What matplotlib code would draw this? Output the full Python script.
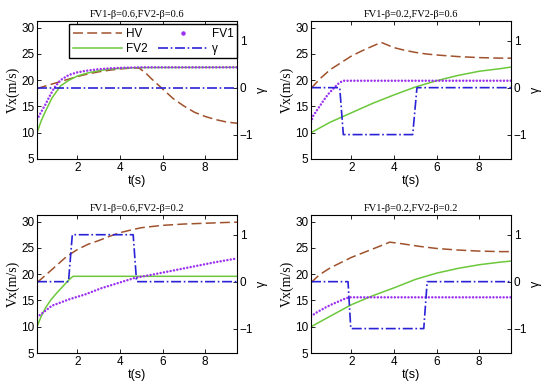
import matplotlib
matplotlib.use("Agg")
import matplotlib.pyplot as plt
from matplotlib.lines import Line2D

# panel titles (row by row)
titles = ["FV1-β=0.6,FV2-β=0.6", "FV1-β=0.2,FV2-β=0.6",
          "FV1-β=0.6,FV2-β=0.2", "FV1-β=0.2,FV2-β=0.2"]

# panel a: FV1 0.6, FV2 0.6
t_hv_a = [0.1, 0.5, 1, 1.5, 2, 2.5, 3, 3.5, 4, 4.5, 4.9, 5.2, 5.5, 6, 6.5, 7, 7.5, 8, 8.5, 9, 9.5]
hv_a = [18.4, 18.9, 19.5, 20.1, 20.7, 21.2, 21.6, 21.9, 22.15, 22.3, 22.3, 21.4, 20.2, 18.35, 16.5, 15.1, 13.9, 13.1, 12.5, 12.05, 11.8]
t_fv1_a = [0.1, 0.3, 0.5, 0.7, 0.9, 1.2, 1.6, 2.0, 2.5, 3.0, 3.5, 4.0, 4.5, 5, 9.5]
fv1_a = [12.5, 14.0, 15.4, 17.0, 18.5, 20.0, 21.0, 21.5, 21.85, 22.1, 22.25, 22.35, 22.4, 22.45, 22.45]
t_fv2_a = [0.1, 0.3, 0.5, 0.8, 1.2, 1.6, 2.0, 2.5, 3.0, 3.5, 4, 4.5, 5, 9.5]
fv2_a = [10.0, 12.3, 14.1, 16.6, 18.9, 20.0, 20.8, 21.4, 21.8, 22.1, 22.25, 22.35, 22.4, 22.45]
t_g_a = [0.1, 9.5]
g_a = [0, 0]

# panel b: FV1 0.2, FV2 0.6
t_hv_b = [0.1, 0.5, 1, 1.5, 2, 2.5, 3, 3.4, 4, 4.5, 5, 5.5, 6, 7, 8, 9, 9.5]
hv_b = [18.4, 20.2, 22.0, 23.3, 24.6, 25.6, 26.5, 27.2, 26.2, 25.7, 25.3, 25.0, 24.8, 24.5, 24.3, 24.2, 24.2]
t_fv1_b = [0.1, 0.2, 0.45, 0.7, 0.9, 1.15, 1.4, 1.6, 9.5]
fv1_b = [12.0, 13.2, 14.7, 16.2, 17.3, 18.4, 19.4, 19.9, 19.9]
t_fv2_b = [0.1, 1, 2, 3, 4, 5, 6, 7, 8, 9, 9.5]
fv2_b = [10.0, 12.0, 13.8, 15.6, 17.2, 18.7, 19.9, 20.9, 21.7, 22.2, 22.5]
t_g_b = [0.1, 1.45, 1.62, 4.88, 5.08, 9.5]
g_b = [0, 0, -1, -1, 0, 0]

# panel c: FV1 0.6, FV2 0.2
t_hv_c = [0.1, 0.5, 1, 1.5, 2, 2.5, 3, 3.5, 4, 4.5, 5, 6, 7, 8, 9, 9.5]
hv_c = [18.4, 19.8, 21.6, 23.4, 24.7, 25.7, 26.4, 27.2, 27.9, 28.4, 28.85, 29.3, 29.55, 29.7, 29.85, 29.9]
t_fv1_c = [0.1, 0.8, 1.6, 2.4, 3.1, 3.9, 4.7, 5.5, 6.5, 7.5, 8.5, 9.5]
fv1_c = [11.8, 14.0, 15.2, 16.2, 17.3, 18.3, 19.3, 19.9, 20.7, 21.5, 22.3, 23.0]
t_fv2_c = [0.1, 0.3, 0.5, 0.75, 1.0, 1.25, 1.5, 1.7, 1.8, 9.5]
fv2_c = [10.0, 12.0, 13.6, 15.1, 16.3, 17.4, 18.5, 19.3, 19.6, 19.6]
t_g_c = [0.1, 1.58, 1.76, 4.62, 4.78, 9.5]
g_c = [0, 0, 1, 1, 0, 0]

# panel d: FV1 0.2, FV2 0.2
t_hv_d = [0.1, 0.5, 1, 1.5, 2, 2.5, 3, 3.5, 3.8, 4.2, 4.7, 5.2, 6, 7, 8, 9, 9.5]
hv_d = [18.4, 19.9, 21.2, 22.2, 23.2, 24.0, 24.8, 25.6, 26.1, 25.9, 25.6, 25.3, 24.9, 24.6, 24.4, 24.3, 24.3]
t_fv1_d = [0.1, 0.4, 0.8, 1.1, 1.45, 1.7, 1.9, 9.5]
fv1_d = [12.0, 12.8, 13.7, 14.3, 14.9, 15.35, 15.6, 15.6]
t_fv2_d = [0.1, 1, 2, 3, 4, 5, 6, 7, 8, 9, 9.5]
fv2_d = [10.0, 12.0, 14.2, 15.9, 17.4, 19.0, 20.2, 21.1, 21.8, 22.3, 22.5]
t_g_d = [0.1, 1.84, 1.97, 5.40, 5.56, 9.5]
g_d = [0, 0, -1, -1, 0, 0]

x_ticks = [2, 4, 6, 8]
v_ticks = [5, 10, 15, 20, 25, 30]
g_ticks = [-1, 0, 1]

C_HV = "#a0522d"
C_FV1 = "#9b30f0"
C_FV2 = "#6cc83a"
C_G = "#2a22d6"
SANS = "Liberation Sans"
SERIF = "Liberation Serif"
HV_DASH = (6.5, 2.8)
G_DASH = (6, 1.6, 1, 1.6)

def _panel(fig, rect, title, hv, fv1, fv2, gam, legend=False):
    # one subplot with velocities on the left axis and gamma on the right
    ax = fig.add_axes(rect)
    ax.plot(hv[0], hv[1], color=C_HV, lw=1.1, dashes=HV_DASH)
    ax.plot(fv2[0], fv2[1], color=C_FV2, lw=1.1)
    ax.plot(fv1[0], fv1[1], color=C_FV1, lw=1.8, dashes=(0.01, 1.35),
            dash_capstyle="round")
    ax.set_xlim(0.1, 9.5)
    ax.set_ylim(5, 31.27)
    ax.set_xticks(x_ticks)
    ax.set_yticks(v_ticks)
    ax.tick_params(direction="in", length=3, width=0.6, top=True, labelsize=8.5, pad=2)
    for lab in ax.get_xticklabels() + ax.get_yticklabels():
        lab.set_family(SANS)
    ax.set_xlabel("t(s)", family=SANS, fontsize=9, labelpad=1)
    ax.set_ylabel("Vx(m/s)", family=SERIF, fontsize=10, labelpad=1)
    ax.set_title(title, family=SERIF, fontsize=7.5, pad=3)
    for s in ax.spines.values():
        s.set_linewidth(0.6)

    ax2 = ax.twinx()
    ax2.plot(gam[0], gam[1], color=C_G, lw=1.2, dashes=G_DASH)
    ax2.set_ylim(-1.52, 1.42)
    ax2.set_yticks(g_ticks)
    ax2.tick_params(direction="in", length=3, width=0.6, labelsize=8.5, pad=2)
    for lab in ax2.get_yticklabels():
        lab.set_family(SANS)
    ax2.set_ylabel("γ", family=SANS, fontsize=9, rotation=90, labelpad=2)

    if legend:
        handles = [Line2D([], [], color=C_HV, lw=1.1, dashes=HV_DASH),
                   Line2D([], [], color=C_FV2, lw=1.1),
                   Line2D([], [], color=C_FV1, ls="none", marker="o", ms=2.2),
                   Line2D([], [], color=C_G, lw=1.2, dashes=G_DASH)]
        ax2.legend(handles, ["HV", "FV2", "FV1", "γ"], ncol=2, loc="upper right",
                   bbox_to_anchor=(1.0, 0.976), borderaxespad=0, fancybox=False,
                   edgecolor="black", framealpha=1, handlelength=4.2,
                   handletextpad=0.35, columnspacing=0.85, labelspacing=0.25,
                   borderpad=0.3, prop={"family": SANS, "size": 8.5})
    return ax

if __name__ == "__main__":
    fig = plt.figure(figsize=(5.5, 3.89), dpi=100)
    w, h = 200 / 550, 138 / 389
    _panel(fig, [37 / 550, 1 - 159 / 389, w, h], titles[0],
           (t_hv_a, hv_a), (t_fv1_a, fv1_a), (t_fv2_a, fv2_a), (t_g_a, g_a), legend=True)
    _panel(fig, [311 / 550, 1 - 159 / 389, w, h], titles[1],
           (t_hv_b, hv_b), (t_fv1_b, fv1_b), (t_fv2_b, fv2_b), (t_g_b, g_b))
    _panel(fig, [37 / 550, 1 - 353 / 389, w, h], titles[2],
           (t_hv_c, hv_c), (t_fv1_c, fv1_c), (t_fv2_c, fv2_c), (t_g_c, g_c))
    _panel(fig, [311 / 550, 1 - 353 / 389, w, h], titles[3],
           (t_hv_d, hv_d), (t_fv1_d, fv1_d), (t_fv2_d, fv2_d), (t_g_d, g_d))
    fig.savefig("out.png", dpi=100)
